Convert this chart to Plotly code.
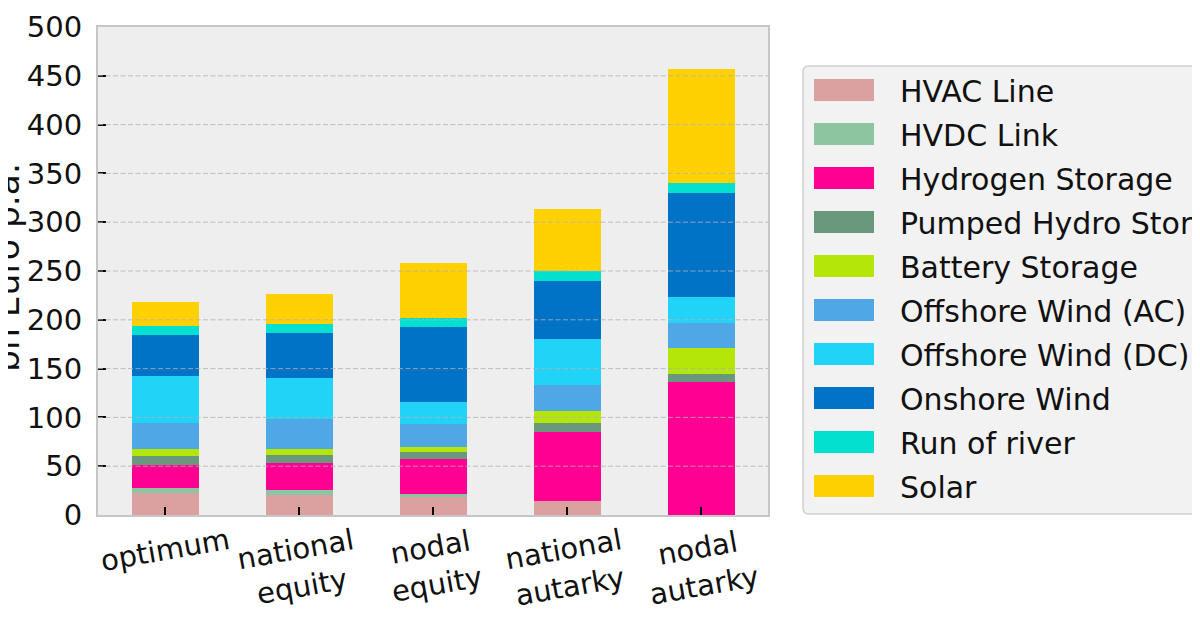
import plotly.graph_objects as go

# ---------------- data ----------------
categories = ["optimum", "national equity", "nodal equity", "national autarky", "nodal autarky"]
tick_labels = ["optimum", "national<br>equity", "nodal<br>equity", "national<br>autarky", "nodal<br>autarky"]

series_names = [
    "HVAC Line", "HVDC Link", "Hydrogen Storage", "Pumped Hydro Storage",
    "Battery Storage", "Offshore Wind (AC)", "Offshore Wind (DC)",
    "Onshore Wind", "Run of river", "Solar",
]
hvac_line = [23, 20.5, 18, 14, 0]
hvdc_link = [5, 5, 4, 0, 0]
hydrogen_storage = [23.5, 28, 35, 71, 136]
pumped_hydro = [9, 8, 8, 9, 8.5]
battery_storage = [7, 6, 5, 12.5, 26.5]
offshore_ac = [27, 31, 23.5, 27, 26]
offshore_dc = [47.5, 41.5, 22, 47, 26]
onshore_wind = [42, 46, 77, 59.5, 107]
run_of_river = [10, 9.5, 9, 10, 10]
solar = [24, 30.5, 57, 64, 116.5]

series_values = [hvac_line, hvdc_link, hydrogen_storage, pumped_hydro, battery_storage,
                 offshore_ac, offshore_dc, onshore_wind, run_of_river, solar]
colors = ["#dba0a0", "#8cc59f", "#ff0092", "#6a987c", "#b5e60a",
          "#4fa7e5", "#22d3f8", "#0173c7", "#04e0d0", "#ffd101"]

y_ticks = list(range(0, 501, 50))
y_title = "bn Euro p.a."

# ---------------- layout geometry (page pixels of the reference) ----------------
OFF = 8                      # page body margin of the browser
W_FIG, H_FIG = 1200, 630 - OFF
L, R, T, B = 98 - OFF, 768 - OFF, 27 - OFF, 515 - OFF
PW, PH = R - L, B - T


def px_x(px):
    return (px - OFF - L) / PW


def px_y(py):
    return (B - (py - OFF)) / PH


FONT = "DejaVu Sans"

fig = go.Figure()
for name, vals, col in zip(series_names, series_values, colors):
    fig.add_trace(go.Bar(
        x=categories, y=vals, name=name, width=0.5,
        marker=dict(color=col, line=dict(width=0)),
        showlegend=False,
    ))

shapes = []
# dashed grid drawn above the bars
for v in y_ticks[1:-1]:
    shapes.append(dict(type="line", xref="paper", yref="y", x0=0, x1=1, y0=v, y1=v,
                       line=dict(color="rgba(178,178,178,0.8)", width=1, dash="5px,2.5px"),
                       layer="above"))

# custom legend (box + patches)
xa, xb = px_x(803), px_x(1215)
ya, yb = px_y(66), px_y(514)
rx, ry = 6 / PW, 6 / PH
path = (f"M{xa+rx},{ya} L{xb-rx},{ya} Q{xb},{ya} {xb},{ya-ry} L{xb},{yb+ry} "
        f"Q{xb},{yb} {xb-rx},{yb} L{xa+rx},{yb} Q{xa},{yb} {xa},{yb+ry} "
        f"L{xa},{ya-ry} Q{xa},{ya} {xa+rx},{ya} Z")
shapes.append(dict(type="path", xref="paper", yref="paper", path=path,
                   fillcolor="#f2f2f2", line=dict(color="#d0d0d0", width=1.5), layer="above"))

annotations = []
for i, (name, col) in enumerate(zip(series_names, colors)):
    cy = 90 + 44 * i
    shapes.append(dict(type="rect", xref="paper", yref="paper",
                       x0=px_x(814), x1=px_x(874), y0=px_y(cy - 11), y1=px_y(cy + 11),
                       fillcolor=col, line=dict(width=0), layer="above"))
    annotations.append(dict(text=name, xref="paper", yref="paper",
                            x=px_x(898), y=px_y(cy + 1), xanchor="left", yanchor="middle",
                            showarrow=False, font=dict(family=FONT, size=30, color="#111111")))

# x tick labels (rotated, centred under the ticks)
for cat, lab in zip(categories, tick_labels):
    annotations.append(dict(text=lab, xref="x", yref="paper", x=cat, y=px_y(520),
                            xanchor="center", yanchor="top", textangle=-10, align="center",
                            showarrow=False, font=dict(family=FONT, size=29, color="#111111")))

# y axis title
annotations.append(dict(text=y_title, xref="paper", yref="paper", x=px_x(7), y=px_y(268),
                        xanchor="center", yanchor="middle", textangle=-90, showarrow=False,
                        font=dict(family=FONT, size=34.5, color="#111111")))

fig.update_layout(
    width=W_FIG, height=H_FIG,
    barmode="stack",
    paper_bgcolor="white", plot_bgcolor="#eeeeee",
    margin=dict(l=L, r=W_FIG - R, t=T, b=H_FIG - B, autoexpand=False),
    font=dict(family=FONT, size=29, color="#111111"),
    showlegend=False,
    shapes=shapes, annotations=annotations,
    bargap=0.5,
)
fig.update_xaxes(
    range=[-0.5, 4.5], showgrid=False, showticklabels=False,
    ticks="inside", ticklen=8, tickwidth=1.5, tickcolor="black",
    showline=True, mirror=True, linecolor="#c6c6c6", linewidth=2,
    layer="above traces", zeroline=False,
)
fig.update_yaxes(
    range=[0, 500], tickvals=y_ticks, showgrid=False,
    ticks="inside", ticklen=8, tickwidth=1.5, tickcolor="black",
    tickfont=dict(family=FONT, size=29, color="#111111"), ticklabelstandoff=8,
    showline=True, mirror=True, linecolor="#c6c6c6", linewidth=2,
    layer="above traces", zeroline=False,
)

fig.write_html("out.html")
